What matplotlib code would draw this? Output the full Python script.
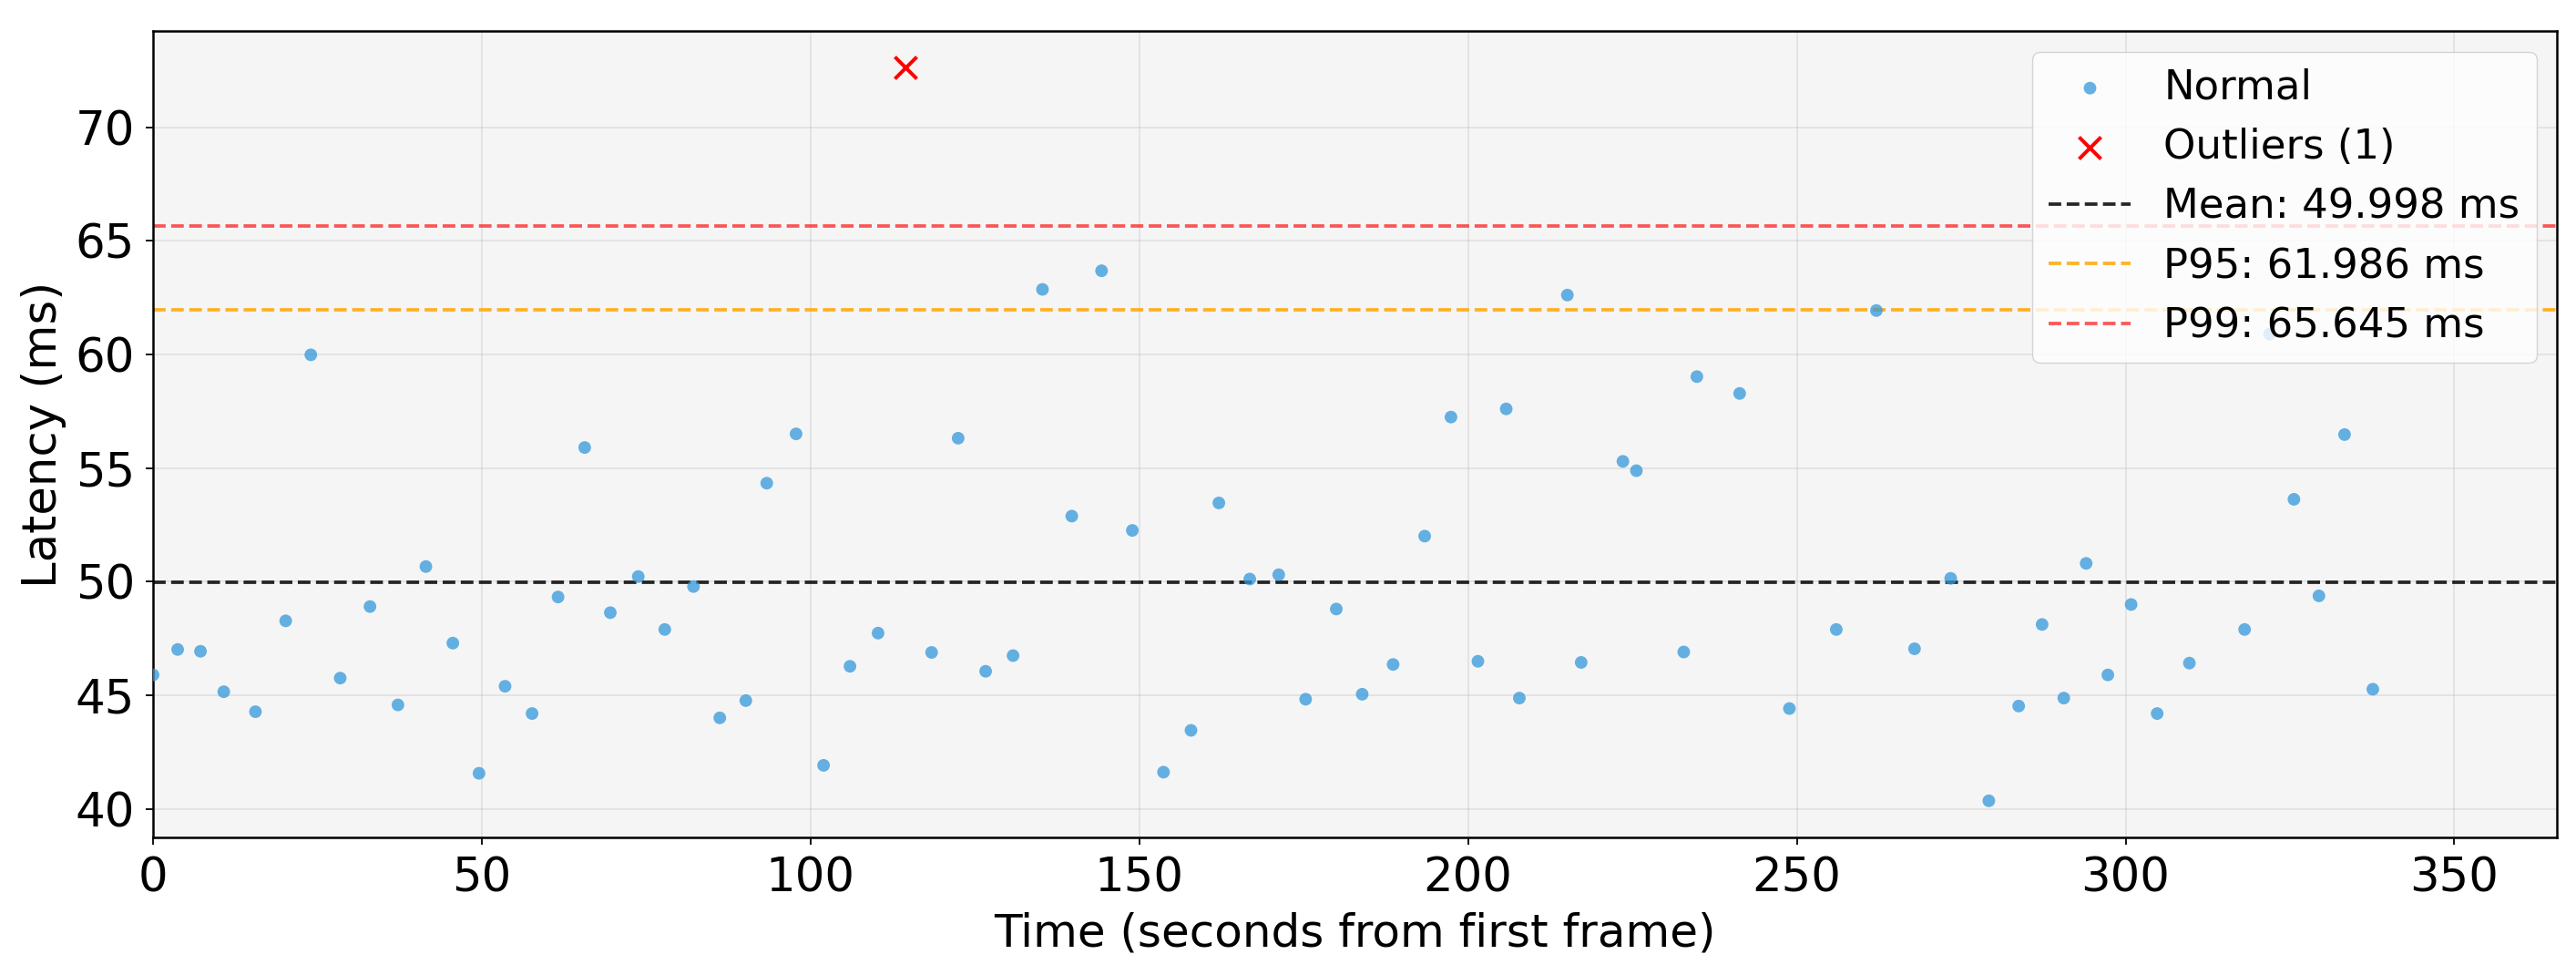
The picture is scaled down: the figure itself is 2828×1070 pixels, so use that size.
import matplotlib
matplotlib.use("Agg")
import matplotlib.pyplot as plt

# latency samples (seconds from first frame, ms)
times = [0.0, 3.75, 7.22, 10.76, 15.58, 20.18, 24.0, 28.47, 33.0, 37.25,
         41.5, 45.6, 49.58, 53.54, 57.65, 61.6, 65.65, 69.55, 73.8, 77.83,
         82.2, 86.2, 90.16, 93.34, 97.8, 101.98, 106.0, 110.27, 118.41, 122.45,
         126.63, 130.8, 135.27, 139.73, 144.26, 148.94, 153.68, 157.86, 162.1, 166.8,
         171.2, 175.3, 179.96, 183.9, 188.6, 193.4, 197.4, 201.5, 205.8, 207.8,
         215.1, 217.2, 223.55, 225.6, 232.8, 234.8, 241.3, 248.87, 256.0, 262.1,
         267.9, 273.4, 279.2, 283.74, 287.3, 290.6, 294.0, 297.3, 300.84, 304.8,
         309.7, 318.1, 321.9, 325.6, 329.4, 333.3, 337.6]
latency = [45.90, 47.02, 46.94, 45.16, 44.28, 48.28, 59.99, 45.76, 48.91, 44.58,
           50.67, 47.30, 41.57, 45.40, 44.20, 49.33, 55.91, 48.64, 50.23, 47.90,
           49.79, 44.01, 44.77, 54.34, 56.51, 41.92, 46.28, 47.74, 46.89, 56.32,
           46.06, 46.75, 62.87, 52.89, 63.69, 52.26, 41.62, 43.46, 53.47, 50.12,
           50.31, 44.83, 48.80, 45.05, 46.36, 52.01, 57.25, 46.50, 57.61, 44.88,
           62.62, 46.45, 55.30, 54.89, 46.91, 59.03, 58.29, 44.42, 47.90, 61.94,
           47.05, 50.15, 40.36, 44.53, 48.12, 44.88, 50.81, 45.90, 49.00, 44.20,
           46.42, 47.90, 60.90, 53.63, 49.38, 56.48, 45.27]

outlier_times = [114.45]
outlier_latency = [72.63]

mean_ms = 49.998
p95_ms = 61.986
p99_ms = 65.645
duration = 365.6

fig, ax = plt.subplots(figsize=(28.28, 10.7), dpi=100)
fig.subplots_adjust(left=0.0594, right=0.9926, top=0.9682, bottom=0.1411)
ax.set_facecolor('#f5f5f5')

ax.scatter(times, latency, s=100, color='#3498db', alpha=0.75,
           edgecolors='none', label='Normal', zorder=3)
ax.scatter(outlier_times, outlier_latency, s=300, marker='x', color='red',
           linewidths=2.9, label=f'Outliers ({len(outlier_times)})', zorder=4)

ax.axhline(mean_ms, color='black', linestyle='--', linewidth=2.7, alpha=0.85,
           label=f'Mean: {mean_ms:.3f} ms')
ax.axhline(p95_ms, color='orange', linestyle='--', linewidth=2.7, alpha=0.85,
           label=f'P95: {p95_ms:.3f} ms')
ax.axhline(p99_ms, color='red', linestyle='--', linewidth=2.7, alpha=0.65,
           label=f'P99: {p99_ms:.3f} ms')

ax.set_xlim(0, duration)
ax.set_xlabel('Time (seconds from first frame)', fontsize=36, labelpad=8)
ax.set_ylabel('Latency (ms)', fontsize=37, labelpad=7)
ax.tick_params(labelsize=37, length=6, width=1.3, pad=8.5)
for sp in ax.spines.values():
    sp.set_linewidth(1.8)
ax.grid(True, alpha=0.3, linewidth=1.2)
ax.legend(loc='upper right', fontsize=32.4)

fig.savefig('out.png', dpi=100)
